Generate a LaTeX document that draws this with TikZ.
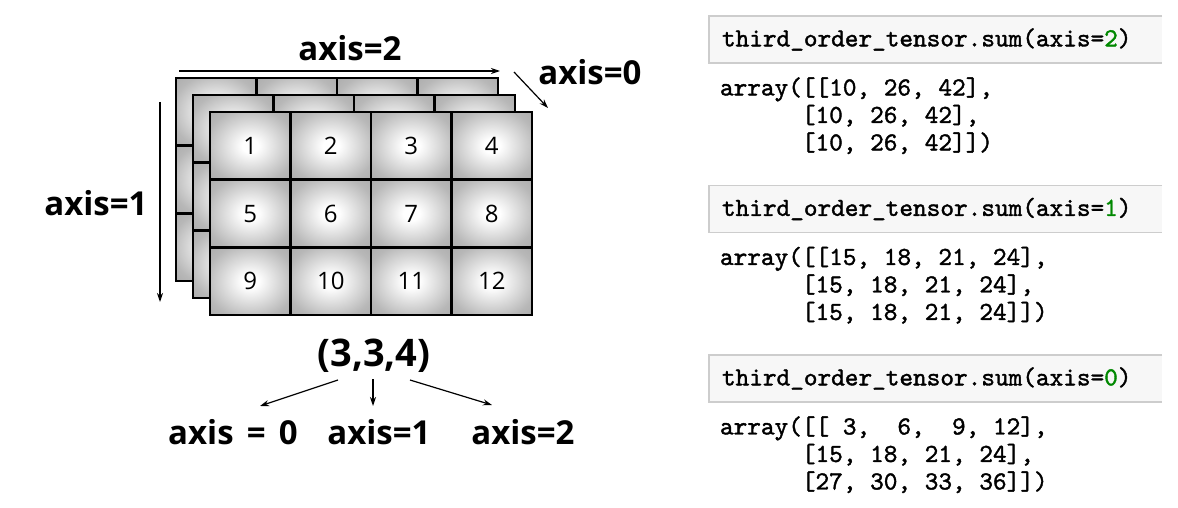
\documentclass[tikz,border=0pt]{standalone}
\usepackage{fontspec}
\setsansfont{Open Sans}
\newfontfamily\codefam{lmmono10-regular.otf}[FakeBold=1.5]
\usepackage{tikz}
\usetikzlibrary{arrows.meta,positioning}

\definecolor{codegreen}{RGB}{0,136,0}
\definecolor{boxfill}{RGB}{247,247,247}
\definecolor{boxedge}{RGB}{205,205,205}
\pgfdeclareradialshading{cellglow}{\pgfpoint{0bp}{0bp}}{color(0bp)=(white); color(5bp)=(white); color(28bp)=(black!28); color(50bp)=(black!40); color(71bp)=(black!52)}
\newcommand{\codefont}{\fontsize{26pt}{27.5pt}\selectfont\codefam}

\begin{document}
\begin{tikzpicture}[x=1pt,y=-1pt,node distance=169.5pt,on grid,>={Stealth[length=9pt,width=6pt]},
  cell/.style={draw,line width=2.6pt,shade,shading=cellglow,minimum width=80.5pt,minimum height=67.7pt,inner sep=0pt,font=\fontsize{24pt}{28pt}\selectfont\sffamily},
  axis label/.style={inner sep=0pt,font=\fontsize{33pt}{40pt}\selectfont\sffamily\bfseries},
  shape label/.style={inner sep=0pt,font=\fontsize{38pt}{44pt}\selectfont\sffamily\bfseries},
  codebox/.style={fill=boxfill,minimum width=453pt,minimum height=47pt,text width=427pt,inner xsep=13pt,inner ysep=0pt,align=left,font=\codefont},
  arrayout/.style={anchor=north west,inner sep=0pt,align=left,font=\codefont},
  boxline/.style={draw=boxedge,line width=1.5pt},
  thin arrow/.style={->,line width=1.2pt}]
  \useasboundingbox (0,0) rectangle (1178,508);

  % stacked layers of the tensor
  \foreach \lay/\off in {back/0,mid/17}
    \foreach \r in {0,1,2}
      \foreach \c in {0,...,3}
        \node[cell] (\lay-\r-\c) at ({176+\off+(\c+0.5)*80.5},{78+\off+(\r+0.5)*67.7}) {};
  \foreach \r in {0,1,2}
    \foreach \c in {0,...,3} {
      \pgfmathtruncatemacro\num{4*\r+\c+1}
      \node[cell] (front-\r-\c) at ({210+(\c+0.5)*80.5},{112+(\r+0.5)*67.7}) {\num};
    }

  \node[axis label] (lab2) at (350,48) {axis=2};
  \node[axis label] (lab0) at (590,72) {axis=0};
  \node[axis label] (lab1) at (96,203) {axis=1};

  \coordinate (top-tail) at (179,71);
  \coordinate (top-head) at (500,71);
  \coordinate (side-tail) at (160,102);
  \coordinate (side-head) at (160,302);
  \coordinate (depth-tail) at (514,72);
  \coordinate (depth-head) at (548,108);

  \path[thin arrow]
  (top-tail) edge (top-head)
  (side-tail) edge (side-head)
  (depth-tail) edge (depth-head);

  % shape and its axes
  \node[shape label] (shape) at (374,356) {(3,3,4)};
  \node[axis label] (ax0) at (233,432) {axis\hspace{0.4em}=\hspace{0.4em}0};
  \node[axis label] (ax1) at (379,432) {axis=1};
  \node[axis label] (ax2) at (523,432) {axis=2};

  \coordinate (split-l) at (338,380);
  \coordinate (split-m) at (373,379);
  \coordinate (split-r) at (410,380);
  \coordinate (to-ax0) at (260,406);
  \coordinate (to-ax1) at (373,406);
  \coordinate (to-ax2) at (492,405);

  \path[thin arrow]
  (split-l) edge (to-ax0)
  (split-m) edge (to-ax1)
  (split-r) edge (to-ax2);

  % notebook cells
  \node[codebox] (sum2) at (935.5,39.5) {third\_order\_tensor.sum(axis=\textcolor{codegreen}{2})};
  \node[codebox] (sum1) [below = of sum2] {third\_order\_tensor.sum(axis=\textcolor{codegreen}{1})};
  \node[codebox] (sum0) [below = of sum1] {third\_order\_tensor.sum(axis=\textcolor{codegreen}{0})};
  \foreach \b in {sum2,sum1,sum0}
    \draw[boxline] (\b.north east) -- (\b.north west) -- (\b.south west) -- (\b.south east);

  \node[arrayout] (out2) at ([xshift=11pt,yshift=-14pt]sum2.south west)
    {array([[10, 26, 42],\\ \phantom{array(}[10, 26, 42],\\ \phantom{array(}[10, 26, 42]])};
  \node[arrayout] (out1) at ([xshift=11pt,yshift=-14pt]sum1.south west)
    {array([[15, 18, 21, 24],\\ \phantom{array(}[15, 18, 21, 24],\\ \phantom{array(}[15, 18, 21, 24]])};
  \node[arrayout] (out0) at ([xshift=11pt,yshift=-14pt]sum0.south west)
    {array([[~3,~~6,~~9, 12],\\ \phantom{array(}[15, 18, 21, 24],\\ \phantom{array(}[27, 30, 33, 36]])};
\end{tikzpicture}
\end{document}
